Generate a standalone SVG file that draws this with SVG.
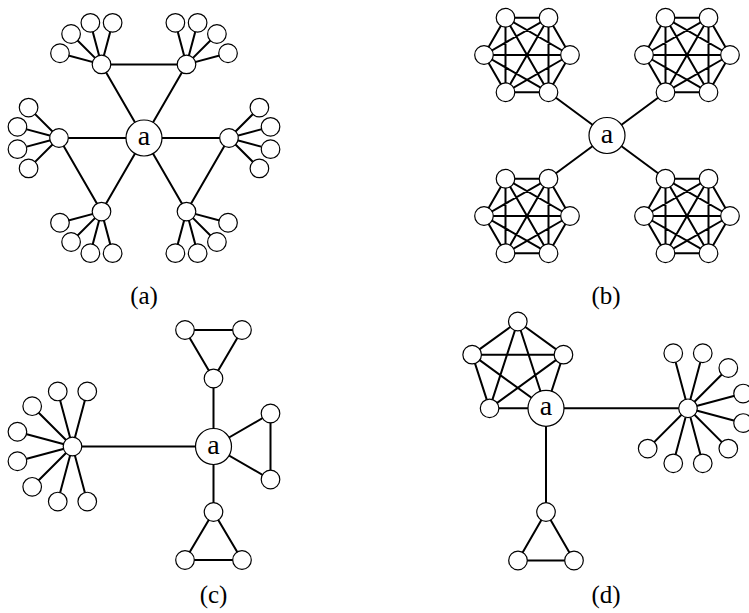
<svg xmlns="http://www.w3.org/2000/svg" xmlns:xlink="http://www.w3.org/1999/xlink" width="749" height="613" viewBox="0 0 749 613">
<style>
.e{stroke:#000;stroke-width:2;fill:none;stroke-linecap:round}
.n{fill:#fff;stroke:#000;stroke-width:1.2}
.t{font-family:"Liberation Serif","DejaVu Serif",serif;font-size:25px;fill:#000;text-anchor:middle}
.l{font-family:"Liberation Serif","DejaVu Serif",serif;font-size:28px;fill:#000;text-anchor:middle}
</style>
<defs>
<path id="k6" d="M43 0L21.5 37.24M43 0L-21.5 37.24M43 0L-43 0M43 0L-21.5 -37.24M43 0L21.5 -37.24M21.5 37.24L-21.5 37.24M21.5 37.24L-43 0M21.5 37.24L-21.5 -37.24M21.5 37.24L21.5 -37.24M-21.5 37.24L-43 0M-21.5 37.24L-21.5 -37.24M-21.5 37.24L21.5 -37.24M-43 0L-21.5 -37.24M-43 0L21.5 -37.24M-21.5 -37.24L21.5 -37.24"/>
<g id="hex"><circle class="n" cx="43" cy="0" r="9.3"/><circle class="n" cx="21.5" cy="37.24" r="9.3"/><circle class="n" cx="-21.5" cy="37.24" r="9.3"/><circle class="n" cx="-43" cy="0" r="9.3"/><circle class="n" cx="-21.5" cy="-37.24" r="9.3"/><circle class="n" cx="21.5" cy="-37.24" r="9.3"/></g>
</defs>
<g id="connectors" class="e">
<path d="M144 138L229 138M144 138L186.5 211.6M144 138L101.5 211.6M144 138L59 138M144 138L101.5 64.4M144 138L186.5 64.4M101.5 64.4L186.5 64.4M59 138L101.5 211.6M229 138L186.5 211.6"/>
<path d="M229 138L259.41 107.59M229 138L270.53 126.87M229 138L270.53 149.13M229 138L259.41 168.41"/>
<path d="M186.5 211.6L228.03 222.73M186.5 211.6L216.91 242.01M186.5 211.6L197.63 253.13M186.5 211.6L175.37 253.13"/>
<path d="M101.5 211.6L112.63 253.13M101.5 211.6L90.37 253.13M101.5 211.6L71.09 242.01M101.5 211.6L59.97 222.73"/>
<path d="M59 138L28.59 168.41M59 138L17.47 149.13M59 138L17.47 126.87M59 138L28.59 107.59"/>
<path d="M101.5 64.4L59.97 53.27M101.5 64.4L71.09 33.99M101.5 64.4L90.37 22.87M101.5 64.4L112.63 22.87"/>
<path d="M186.5 64.4L175.37 22.87M186.5 64.4L197.63 22.87M186.5 64.4L216.91 33.99M186.5 64.4L228.03 53.27"/>
<use xlink:href="#k6" href="#k6" x="527" y="55"/>
<use xlink:href="#k6" href="#k6" x="687" y="55"/>
<use xlink:href="#k6" href="#k6" x="527" y="216"/>
<use xlink:href="#k6" href="#k6" x="687" y="216"/>
<path d="M607 135.5L548.5 92.24M607 135.5L665.5 92.24M607 135.5L548.5 178.76M607 135.5L665.5 178.76"/>
<path d="M213.5 446.5L72.5 446.5M213.5 446.5L213.5 378.5M213.5 378.5L185 330L242 330Z M213.5 446.5L270.5 413.5L270.5 479.5Z M213.5 446.5L213.5 512M213.5 512L185 560L242 560Z"/>
<path d="M72.5 446.5L87.25 501.56M72.5 446.5L57.75 501.56M72.5 446.5L32.19 486.81M72.5 446.5L17.44 461.25M72.5 446.5L17.44 431.75M72.5 446.5L32.19 406.19M72.5 446.5L57.75 391.44M72.5 446.5L87.25 391.44"/>
<path d="M517.8 321.5L563.45 354.67M517.8 321.5L546 408.3M517.8 321.5L489.59 408.33M517.8 321.5L472.15 354.67M563.45 354.67L546 408.3M563.45 354.67L489.59 408.33M563.45 354.67L472.15 354.67M546 408.3L489.59 408.33M546 408.3L472.15 354.67M489.59 408.33L472.15 354.67"/>
<path d="M546 408.3L688 408.3M546 408.3L546 512M546 512L518 560.5L574 560.5Z"/>
<path d="M688 408.3L673.25 353.24M688 408.3L702.75 353.24M688 408.3L728.31 367.99M688 408.3L743.06 393.55M688 408.3L743.06 423.05M688 408.3L728.31 448.61M688 408.3L702.75 463.36M688 408.3L673.25 463.36M688 408.3L647.69 448.61"/>
</g>
<g id="a_center"><circle class="n" cx="144" cy="138" r="18"/><text class="l" x="144" y="145">a</text></g>
<g id="a_hubR"><circle class="n" cx="229" cy="138" r="9.3"/><circle class="n" cx="259.41" cy="107.59" r="9.3"/><circle class="n" cx="270.53" cy="126.87" r="9.3"/><circle class="n" cx="270.53" cy="149.13" r="9.3"/><circle class="n" cx="259.41" cy="168.41" r="9.3"/></g>
<g id="a_hubBR"><circle class="n" cx="186.5" cy="211.6" r="9.3"/><circle class="n" cx="228.03" cy="222.73" r="9.3"/><circle class="n" cx="216.91" cy="242.01" r="9.3"/><circle class="n" cx="197.63" cy="253.13" r="9.3"/><circle class="n" cx="175.37" cy="253.13" r="9.3"/></g>
<g id="a_hubBL"><circle class="n" cx="101.5" cy="211.6" r="9.3"/><circle class="n" cx="112.63" cy="253.13" r="9.3"/><circle class="n" cx="90.37" cy="253.13" r="9.3"/><circle class="n" cx="71.09" cy="242.01" r="9.3"/><circle class="n" cx="59.97" cy="222.73" r="9.3"/></g>
<g id="a_hubL"><circle class="n" cx="59" cy="138" r="9.3"/><circle class="n" cx="28.59" cy="168.41" r="9.3"/><circle class="n" cx="17.47" cy="149.13" r="9.3"/><circle class="n" cx="17.47" cy="126.87" r="9.3"/><circle class="n" cx="28.59" cy="107.59" r="9.3"/></g>
<g id="a_hubTL"><circle class="n" cx="101.5" cy="64.4" r="9.3"/><circle class="n" cx="59.97" cy="53.27" r="9.3"/><circle class="n" cx="71.09" cy="33.99" r="9.3"/><circle class="n" cx="90.37" cy="22.87" r="9.3"/><circle class="n" cx="112.63" cy="22.87" r="9.3"/></g>
<g id="a_hubTR"><circle class="n" cx="186.5" cy="64.4" r="9.3"/><circle class="n" cx="175.37" cy="22.87" r="9.3"/><circle class="n" cx="197.63" cy="22.87" r="9.3"/><circle class="n" cx="216.91" cy="33.99" r="9.3"/><circle class="n" cx="228.03" cy="53.27" r="9.3"/></g>
<g id="b_center"><circle class="n" cx="607" cy="135.5" r="18"/><text class="l" x="607" y="142.5">a</text></g>
<g id="b_TL"><use xlink:href="#hex" href="#hex" x="527" y="55"/></g>
<g id="b_TR"><use xlink:href="#hex" href="#hex" x="687" y="55"/></g>
<g id="b_BL"><use xlink:href="#hex" href="#hex" x="527" y="216"/></g>
<g id="b_BR"><use xlink:href="#hex" href="#hex" x="687" y="216"/></g>
<g id="c_center"><circle class="n" cx="213.5" cy="446.5" r="18"/><text class="l" x="213.5" y="453.5">a</text></g>
<g id="c_hub"><circle class="n" cx="72.5" cy="446.5" r="9.3"/><circle class="n" cx="87.25" cy="501.56" r="9.3"/><circle class="n" cx="57.75" cy="501.56" r="9.3"/><circle class="n" cx="32.19" cy="486.81" r="9.3"/><circle class="n" cx="17.44" cy="461.25" r="9.3"/><circle class="n" cx="17.44" cy="431.75" r="9.3"/><circle class="n" cx="32.19" cy="406.19" r="9.3"/><circle class="n" cx="57.75" cy="391.44" r="9.3"/><circle class="n" cx="87.25" cy="391.44" r="9.3"/></g>
<g id="c_triT"><circle class="n" cx="213.5" cy="378.5" r="9.3"/><circle class="n" cx="185" cy="330" r="9.3"/><circle class="n" cx="242" cy="330" r="9.3"/></g>
<g id="c_triR"><circle class="n" cx="270.5" cy="413.5" r="9.3"/><circle class="n" cx="270.5" cy="479.5" r="9.3"/></g>
<g id="c_triB"><circle class="n" cx="213.5" cy="512" r="9.3"/><circle class="n" cx="185" cy="560" r="9.3"/><circle class="n" cx="242" cy="560" r="9.3"/></g>
<g id="d_pent"><circle class="n" cx="517.8" cy="321.5" r="9.3"/><circle class="n" cx="563.45" cy="354.67" r="9.3"/><circle class="n" cx="489.59" cy="408.33" r="9.3"/><circle class="n" cx="472.15" cy="354.67" r="9.3"/></g>
<g id="d_center"><circle class="n" cx="546" cy="408.3" r="18"/><text class="l" x="546" y="415.3">a</text></g>
<g id="d_hub"><circle class="n" cx="688" cy="408.3" r="9.3"/><circle class="n" cx="673.25" cy="353.24" r="9.3"/><circle class="n" cx="702.75" cy="353.24" r="9.3"/><circle class="n" cx="728.31" cy="367.99" r="9.3"/><circle class="n" cx="743.06" cy="393.55" r="9.3"/><circle class="n" cx="743.06" cy="423.05" r="9.3"/><circle class="n" cx="728.31" cy="448.61" r="9.3"/><circle class="n" cx="702.75" cy="463.36" r="9.3"/><circle class="n" cx="673.25" cy="463.36" r="9.3"/><circle class="n" cx="647.69" cy="448.61" r="9.3"/></g>
<g id="d_tri"><circle class="n" cx="546" cy="512" r="9.3"/><circle class="n" cx="518" cy="560.5" r="9.3"/><circle class="n" cx="574" cy="560.5" r="9.3"/></g>
<g id="captions">
<text class="t" x="144" y="304">(a)</text>
<text class="t" x="606" y="304">(b)</text>
<text class="t" x="213.5" y="603">(c)</text>
<text class="t" x="606" y="603">(d)</text>
</g>
</svg>
